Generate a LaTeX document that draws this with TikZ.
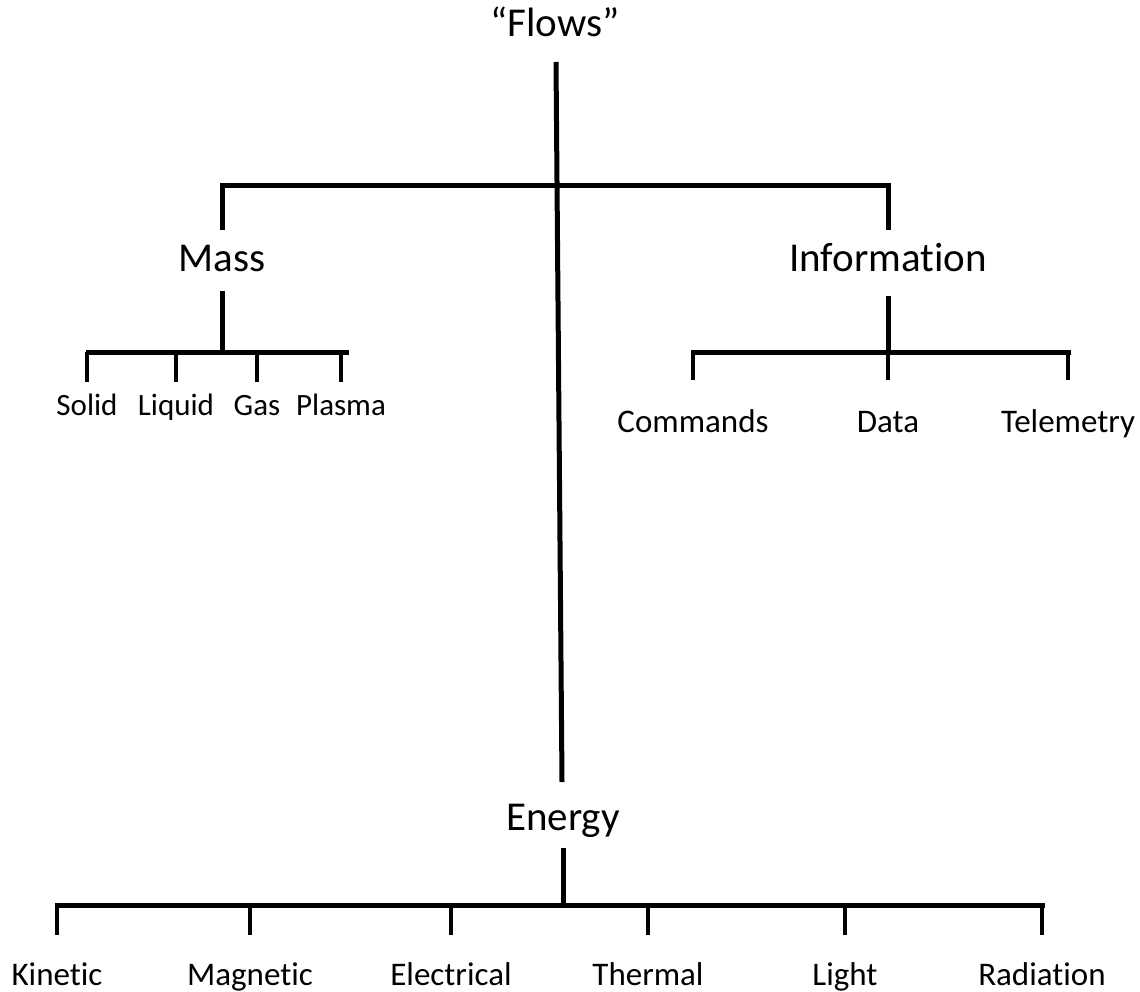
\documentclass[tikz,border=0pt]{standalone}
\usepackage{fontspec}
\setmainfont[Ligatures={NoCommon}]{Carlito}
\begin{document}
\begin{tikzpicture}[x=1pt,y=-1pt,
  bigl/.style={anchor=base,inner sep=0pt,font=\fontsize{41}{48}\selectfont},
  massl/.style={anchor=base,inner sep=0pt,font=\fontsize{31}{37}\selectfont},
  infol/.style={anchor=base,inner sep=0pt,font=\fontsize{33}{39}\selectfont},
  botl/.style={anchor=base,inner sep=0pt,font=\fontsize{33}{39}\selectfont},
  branch/.style={line width=5pt,line cap=rect,line join=miter},
  drop/.style={line width=4.5pt}]
\useasboundingbox (0,0) rectangle (1140,992);
% labels
\node[bigl] (flows) at (555,37) {“Flows”};
\node[bigl] (mass) at (222,272) {Mass};
\node[bigl] (info) at (888,272) {Information};
\node[bigl] (energy) at (563,830) {Energy};
\node[massl] (solid) at (87,415) {Solid};
\node[massl] (liquid) at (176,415) {Liquid};
\node[massl] (gas) at (257,415) {Gas};
\node[massl] (plasma) at (341,415) {Plasma};
\node[infol] (cmd) at (693,432) {Commands};
\node[infol] (data) at (888,432) {Data};
\node[infol] (tele) at (1068,432) {Telemetry};
\node[botl] (kin) at (57,985) {Kinetic};
\node[botl] (mag) at (250,985) {Magnetic};
\node[botl] (ele) at (451,985) {Electrical};
\node[botl] (the) at (648,985) {Thermal};
\node[botl] (lig) at (845,985) {Light};
\node[botl] (rad) at (1042,985) {Radiation};
% junction coordinates
\coordinate (ctop) at (556,62);
\coordinate (cbot) at (562,782);
\coordinate (topL) at (222,186);
\coordinate (topR) at (888,186);
\coordinate (massTop) at (222,294);
\coordinate (massBar) at (222,352);
\coordinate (infoTop) at (888,298);
\coordinate (infoBar) at (888,352);
\coordinate (enTop) at (563,850);
\coordinate (enBar) at (563,905);
% main stem
\draw[line width=5pt] (ctop) -- (cbot);
% top bar
\draw[branch] (topL |- 0,228) -- (topL) -- (topR) -- (topR |- 0,228);
% mass
\draw[branch] (massTop) -- (massBar);
\draw[branch] (88,352) -- (346,352);
\foreach \n in {solid,liquid,gas,plasma}
  \draw[drop] (\n.north |- massBar) -- (\n.north |- 0,382);
% information
\draw[branch] (infoTop) -- (infoBar);
\draw[branch] (cmd.north |- infoBar) -- (tele.north |- infoBar);
\foreach \n in {cmd,data,tele}
  \draw[drop] (\n.north |- infoBar) -- (\n.north |- 0,380);
% energy
\draw[branch] (enTop) -- (enBar);
\draw[branch] (kin.north |- enBar) -- (rad.north |- enBar);
\foreach \n in {kin,mag,ele,the,lig,rad}
  \draw[drop] (\n.north |- enBar) -- (\n.north |- 0,935);
\end{tikzpicture}
\end{document}
